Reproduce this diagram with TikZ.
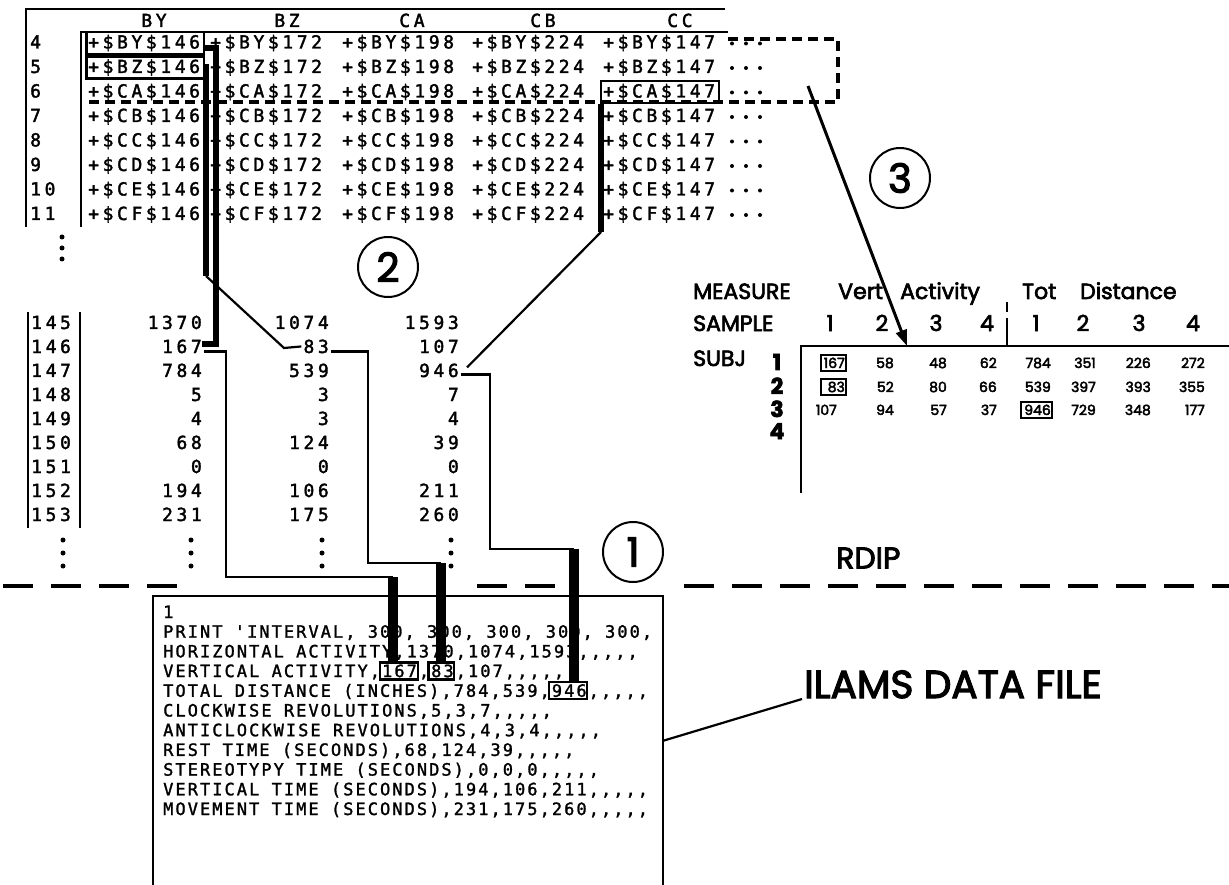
\documentclass[tikz,border=0pt]{standalone}
\usepackage{fontspec}
\setmainfont{Poppins}
\newfontfamily\headfamily[FakeBold=3]{Poppins}
\newfontfamily\sheetfamily[LetterSpace=20, FakeBold=2]{DejaVu Sans Mono}
\newfontfamily\filefamily[LetterSpace=12, FakeBold=1.5]{DejaVu Sans Mono}
\usetikzlibrary{arrows.meta}
\newcommand\sheet{\sheetfamily\fontsize{18}{20}\selectfont}
\newcommand\filetxt{\filefamily\fontsize{17}{19}\selectfont}
\newcommand\rdsmall{\headfamily\fontsize{14}{16}\selectfont}
\newcommand\rdhead{\headfamily\fontsize{22}{24}\selectfont}
\newlength\fpitch

\tikzset{
  cell/.style={anchor=base west, inner sep=0pt, font=\sheet},
  val/.style={anchor=base east, inner sep=0pt, font=\sheet},
  hdr/.style={anchor=base, inner sep=0pt, font=\sheet},
  fline/.style={anchor=base west, inner sep=0pt, font=\filetxt},
  hibox/.style={draw, line width=2.5pt, inner xsep=3pt, inner ysep=3pt, anchor=base west},
  filebox/.style={draw, line width=2.5pt, inner xsep=1.5pt, inner ysep=2pt, anchor=base west},
  rdlabel/.style={anchor=base west, inner sep=0pt, font=\rdhead},
  rdnum/.style={anchor=base, inner sep=0pt, font=\rdhead},
  rdval/.style={anchor=base east, inner sep=0pt, font=\rdsmall},
  rdbox/.style={draw, line width=2pt, inner xsep=2pt, inner ysep=2.5pt, anchor=base east},
  marker/.style={circle, draw, line width=2pt, minimum size=60pt, inner sep=0pt, font=\headfamily\fontsize{40}{40}\selectfont},
  dot/.style={circle, fill, inner sep=0pt, minimum size=5pt},
  rule/.style={line width=2pt},
  link/.style={line width=2.2pt},
  bus/.style={line width=6pt},
  fbus/.style={line width=10pt},
  cutline/.style={line width=3.5pt, dash pattern=on 30pt off 18pt},
  selline/.style={line width=3.5pt, dash pattern=on 10pt off 6pt},
  pick/.style={line width=3pt, -{Triangle[length=16pt,width=11pt]}},
}

\begin{document}
\settowidth\fpitch{\filetxt 0000000000}
\divide\fpitch by 10
\begin{tikzpicture}[x=1pt, y=-1pt]
\path[use as bounding box, fill=white] (0,0) rectangle (1229,885);

% worksheet with the cell formulas
\draw[rule] (26,227) |- (725,9);
\draw[rule] (81,227) |- (728,32);
\foreach \h/\x in {BY/154,BZ/287,CA/412,CB/543,CC/680}
  \node[hdr] (h\h) at (\x,27) {\h};
\foreach \r [count=\i from 0] in {BY,BZ,CA,CB,CC,CD,CE,CF}{
  \pgfmathsetmacro\yb{48.5+24.5*\i}
  \pgfmathtruncatemacro\rn{4+\i}
  \node[cell] (row\i) at (30,\yb) {\rn};
  \foreach \c/\n/\x in {1/146/88,2/172/210,3/198/342,4/224/472,5/147/603}
    \node[cell] (c\c-\i) at (\x,\yb) {+\$\r\$\n};
  \foreach \d in {0,1,2}
    \node[dot, minimum size=4pt] (dd\i-\d) at (732+14*\d,\yb-5) {};
}
\foreach \y [count=\k] in {237,248,259}
  \node[dot] (vd\k) at (62,\y) {};
\node[hibox] (bybox) at (85,48.5) {\sheet\phantom{+\$BY\$146}};
\node[hibox] (bzbox) at (85,73) {\sheet\phantom{+\$BZ\$146}};
\node[hibox, line width=2pt] (cabox) at (600,97.5) {\sheet\phantom{+\$CA\$147}};
\draw[selline] (728,39) -- (838,39) -- (838,102) -- (85,102);

% extracted values
\draw[rule] (28,312) -- (28,528);
\draw[rule] (80,312) -- (80,528);
\foreach \rl/\a/\b/\c [count=\i from 0] in {145/1370/1074/1593,146/167/83/107,147/784/539/946,148/5/3/7,149/4/3/4,150/68/124/39,151/0/0/0,152/194/106/211,153/231/175/260}{
  \pgfmathsetmacro\yb{329+24*\i}
  \node[cell] (m\i) at (31,\yb) {\rl};
  \node[val] (v1-\i) at (202,\yb) {\a};
  \node[val] (v2-\i) at (329,\yb) {\b};
  \node[val] (v3-\i) at (459,\yb) {\c};
}
\foreach \x [count=\j] in {63,191,322,451}
  \foreach \y [count=\k] in {540,553,566}
    \node[dot] (md\j-\k) at (\x,\y) {};

% data file
\node[minimum width=510pt, minimum height=289pt, anchor=north west, inner sep=0pt] (datafile) at (153,596) {};
\draw[rule] (datafile.south west) |- (datafile.north east) -- (datafile.south east);
\foreach \t [count=\k from 0] in {{1},
  {PRINT 'INTERVAL, 300, 300, 300, 300, 300,},
  {HORIZONTAL ACTIVITY,1370,1074,1593,,,,,},
  {VERTICAL ACTIVITY,167,83,107,,,,,},
  {TOTAL DISTANCE (INCHES),784,539,946,,,,,},
  {CLOCKWISE REVOLUTIONS,5,3,7,,,,,},
  {ANTICLOCKWISE REVOLUTIONS,4,3,4,,,,,},
  {REST TIME (SECONDS),68,124,39,,,,,},
  {STEREOTYPY TIME (SECONDS),0,0,0,,,,,},
  {VERTICAL TIME (SECONDS),194,106,211,,,,,},
  {MOVEMENT TIME (SECONDS),231,175,260,,,,,}}{
  \pgfmathsetmacro\yb{618+19.7*\k}
  \node[fline] (fl\k) at (163,\yb) {\t};
}
\node[filebox] (fbox1) at ({163+18*\fpitch-1.5},677.1) {\filetxt\phantom{167}};
\node[filebox] (fbox2) at ({163+22*\fpitch-1.5},677.1) {\filetxt\phantom{83}};
\node[filebox] (fbox3) at ({163+32*\fpitch-1.5},696.8) {\filetxt\phantom{946}};
\node[font=\headfamily\fontsize{39}{41}\selectfont, anchor=base west, inner sep=0pt] (ilams) at (804,698) {ILAMS DATA FILE};
\draw[link] (datafile.east) -- ([xshift=-2pt,yshift=-1pt]ilams.base west);

% RDIP table
\node[rdlabel] (measure) at (693,299) {MEASURE};
\node[rdlabel] (vert) at (838,299) {Vert};
\node[rdlabel] (activity) at (900,299) {Activity};
\node[rdlabel] (tot) at (1022,299) {Tot};
\node[rdlabel] (distance) at (1080,299) {Distance};
\node[rdlabel] (sample) at (693,331) {SAMPLE};
\foreach \s/\x [count=\k] in {1/830,2/882,3/936,4/987,1/1036,2/1083,3/1139,4/1193}
  \node[rdnum] (sm\k) at (\x,331) {\s};
\node[rdlabel] (subj) at (693,366) {SUBJ};
\foreach \y [count=\k] in {370,394,417,439}
  \node[rdnum, font=\rdhead\bfseries] (sj\k) at (777,\y) {\k};
\draw[line width=2.5pt] (801,493) |- (1229,346);
\draw[rule] (1007,302) -- (1007,312);
\draw[rule] (1007,318) -- (1007,346);
\foreach \v/\x [count=\k] in {167/845,58/894,48/947,62/997,784/1051,351/1096,226/1151,272/1205}
  \node[rdval] (ra\k) at (\x,368) {\v};
\foreach \v/\x [count=\k] in {83/845,52/894,80/947,66/997,539/1051,397/1096,393/1151,355/1205}
  \node[rdval] (rb\k) at (\x,392) {\v};
\foreach \v/\x [count=\k] in {107/837,94/894,57/947,37/997,946/1051,729/1096,348/1151,177/1205}
  \node[rdval] (rc\k) at (\x,415) {\v};
\node[rdbox] (rdb1) at (847,368) {\rdsmall\phantom{167}};
\node[rdbox] (rdb2) at (847,392) {\rdsmall\phantom{167}};
\node[rdbox] (rdb3) at (1053,415) {\rdsmall\phantom{946}};
\node[font=\headfamily\fontsize{30}{32}\selectfont, anchor=west, inner sep=0pt] (rdip) at (836,558) {RDIP};

% step markers
\node[marker] (n1) at (633,552) {1};
\node[marker] (n2) at (388,267) {2};
\node[marker] (n3) at (900,178) {3};

% dashed cut between file and sheet
\draw[cutline] (3,586) -- (185,586);
\draw[cutline] (477,586) -- (560,586);
\draw[cutline] (684,586) -- (1229,586);

% step 2: formulas to values
\coordinate (bydrop) at (216,344);
\draw[bus] ([yshift=-5pt]bybox.east) -| (bydrop) -- (bydrop -| v1-1.east);
\coordinate (bzknee) at (206,276);
\coordinate (bzfoot) at (284,348);
\draw[bus] (bzbox.east) -| (bzknee);
\draw[link] (bzknee) -- (bzfoot) -- ([xshift=-2pt]v2-1.west);
\coordinate (cadrop) at (601,232);
\draw[bus] ([xshift=1pt]cabox.south west) -- (cadrop);
\draw[link] (cadrop) -- ([shift={(8pt,3pt)}]v3-2.east);

% step 1: file values to sheet
\coordinate (fb1) at ([xshift=-6pt]fbox1.north);
\coordinate (fb2) at (fbox2.north);
\coordinate (fb3) at ([xshift=6pt]fbox3.north);
\coordinate (f1a) at (226,577);
\coordinate (f2a) at (368,563);
\coordinate (f3a) at (490,549);
\coordinate (f1b) at (fb1 |- f1a);
\coordinate (f2b) at (fb2 |- f2a);
\coordinate (f3b) at (fb3 |- f3a);
\draw[link] ([shift={(2pt,-5pt)}]v1-1.east) -| (f1a) -- (f1b);
\draw[link] ([shift={(2pt,-5pt)}]v2-1.east) -| (f2a) -- (f2b);
\draw[link] ([shift={(2pt,-4pt)}]v3-2.east) -| (f3a) -- (f3b);
\draw[fbus] (f1b) -- (fb1);
\draw[fbus] (f2b) -- (fb2);
\draw[fbus] (f3b) -- (fb3);

% step 3: selection to RDIP
\coordinate (pickfrom) at (808,86);
\coordinate (pickto) at (907,346);
\draw[pick] (pickfrom) -- (pickto);
\end{tikzpicture}
\end{document}
